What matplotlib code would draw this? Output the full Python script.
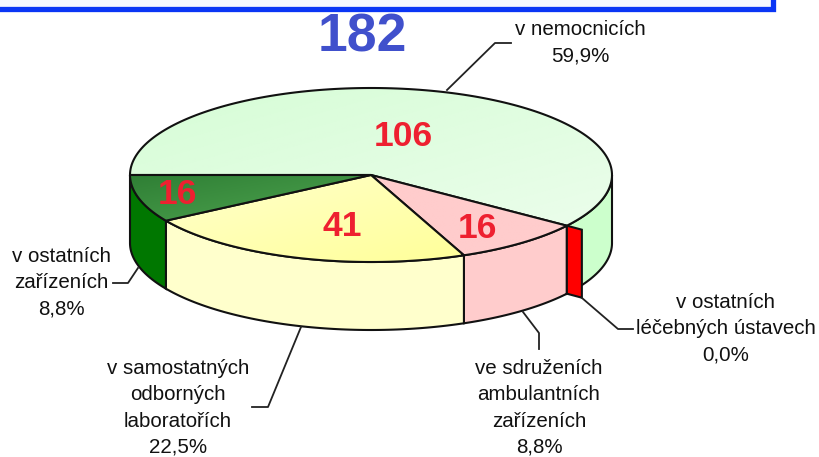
import matplotlib.pyplot as plt
import matplotlib as mpl
mpl.use('Agg')
import numpy as np
from matplotlib.colors import to_rgb
from matplotlib.patches import Polygon, Rectangle

plt.rcParams['font.family'] = ['Liberation Sans', 'DejaVu Sans']

# slices, clockwise starting from the left edge of the pie
labels = ["v nemocnicích\n59,9%",
          "v ostatních\nléčebných ústavech\n0,0%",
          "ve sdruženích\nambulantních\nzařízeních\n8,8%",
          "v samostatných\nodborných\nlaboratořích\n22,5%",
          "v ostatních\nzařízeních\n8,8%"]
percents = [59.9, 0.0, 8.8, 22.5, 8.8]
counts = ["106", "", "16", "41", "16"]
total = "182"

# ellipse of the top face, in pixels
cx, cy = 371, 175
rx, ry = 241, 87
depth = 68

side_colors = ["#ccffcc", "#ff0000", "#ffcccc", "#ffffcc", "#007700"]
top_from = ["#d6fdd6", "#ff0000", "#ffcccc", "#ffffcc", "#2f7f35"]
top_to = ["#ebfdeb", "#ff0000", "#ffcccc", "#ffff99", "#4fa550"]


def rim(angles):
    a = np.radians(angles)
    return np.column_stack((cx + rx * np.cos(a), cy - ry * np.sin(a)))


def gradient_fill(ax, pts, c1, c2, zorder):
    # diagonal gradient, clipped to the polygon
    x0, y0 = pts.min(axis=0)
    x1, y1 = pts.max(axis=0)
    u, v = np.meshgrid(np.linspace(0, 1, 64), np.linspace(0, 1, 64))
    t = ((u + v) / 2)[..., None]
    img = np.array(to_rgb(c1)) * (1 - t) + np.array(to_rgb(c2)) * t
    im = ax.imshow(img, extent=(x0, x1, y1, y0), aspect='auto', zorder=zorder,
                   interpolation='bilinear')
    patch = Polygon(pts, closed=True, facecolor='none', edgecolor='#111111',
                    linewidth=1.5, joinstyle='round', zorder=zorder + 0.1)
    ax.add_patch(patch)
    im.set_clip_path(patch)


fig = plt.figure(figsize=(8.19, 4.57), dpi=100)
ax = fig.add_axes((0, 0, 1, 1))

# frame of the slide above the chart
ax.add_patch(Rectangle((-10, -10), 783, 18.5, facecolor='#f6f7ff', edgecolor='#0a35f5',
                       linewidth=3.8, zorder=1))

# angles of the slice borders
bounds = 180 - np.cumsum([0] + percents) * 3.6

# side walls, only the part on the front of the pie
for i in range(len(percents)):
    a0 = min(bounds[i], 0)
    a1 = bounds[i + 1]
    if a1 >= a0:
        continue
    arc = rim(np.linspace(a0, a1, 80))
    wall = np.vstack((arc, (arc + [0, depth])[::-1]))
    ax.add_patch(Polygon(wall, closed=True, facecolor=side_colors[i], edgecolor='#111111',
                         linewidth=1.5, zorder=2))

# the 0,0% slice only shows as a red cut face
p = rim(np.array([bounds[1]]))[0]
ax.add_patch(Polygon([p, p + [15, 4], p + [15, 4 + depth], p + [0, depth]], closed=True,
                     facecolor=side_colors[1], edgecolor='#111111', linewidth=1.5, zorder=3))

# top faces
for i in range(len(percents)):
    if percents[i] == 0:
        continue
    arc = rim(np.linspace(bounds[i], bounds[i + 1], 160))
    gradient_fill(ax, np.vstack(([cx, cy], arc)), top_from[i], top_to[i], 4 + i * 0.2)

# leader lines
ax.plot([447, 495, 511], [90, 43, 43], color='#222222', lw=1.3, zorder=6)
ax.plot([582, 618, 633], [298, 329, 329], color='#222222', lw=1.3, zorder=6)
ax.plot([523, 539, 539], [312, 333, 349], color='#222222', lw=1.3, zorder=6)
ax.plot([301, 268, 252], [327, 407, 407], color='#222222', lw=1.3, zorder=6)
ax.plot([138, 128, 113], [268, 283, 283], color='#222222', lw=1.3, zorder=6)

# labels
label_pos = [(580, 43), (726, 329), (539, 408), (178, 408), (61, 283)]
for txt, (x, y) in zip(labels, label_pos):
    ax.text(x, y, txt, ha='center', va='center', fontsize=14.8, color='#111111',
            linespacing=1.475, zorder=7)

count_pos = [(403, 136), None, (477, 228), (342, 227), (177, 195)]
for txt, pos in zip(counts, count_pos):
    if txt:
        ax.text(pos[0], pos[1], txt, ha='center', va='center', fontsize=25.5,
                fontweight='bold', color='#ee2030', zorder=7)

ax.text(362, 37, total, ha='center', va='center', fontsize=38.5, fontweight='bold',
        color='#4050cc', zorder=7)

ax.set_xlim(0, 819)
ax.set_ylim(457, 0)
ax.axis('off')
fig.savefig('out.png', dpi=100)
